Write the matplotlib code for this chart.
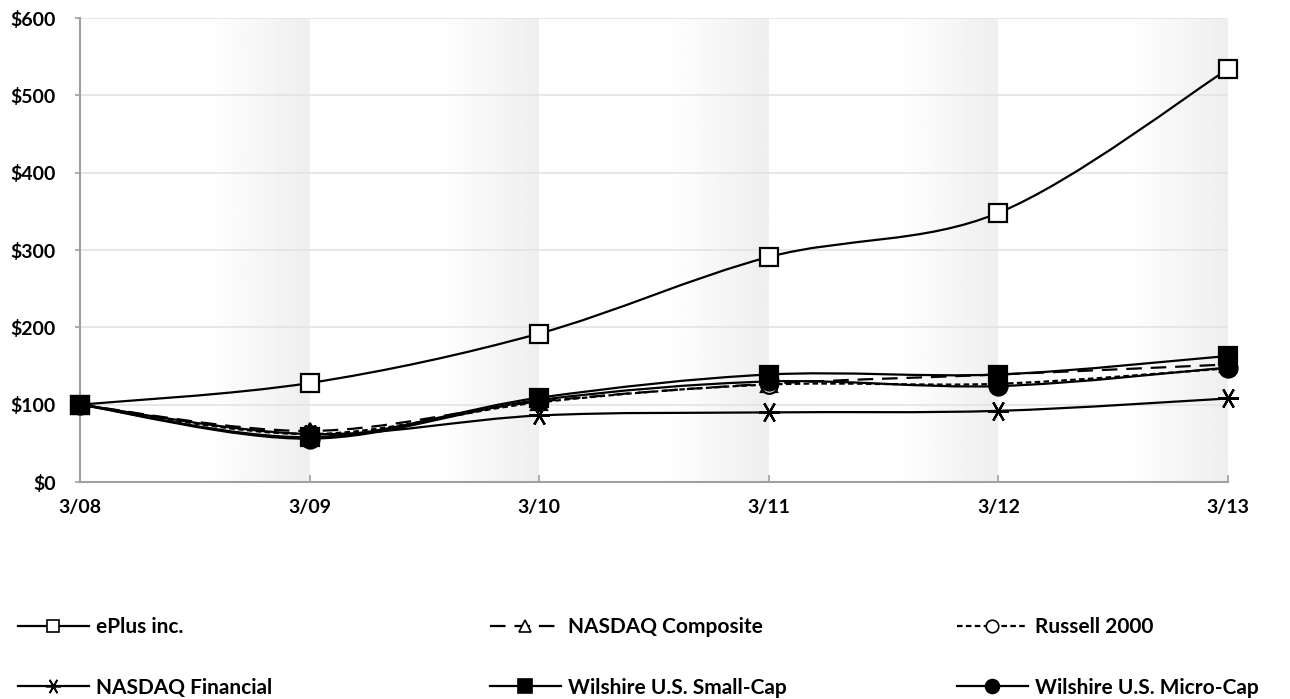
import numpy as np
import matplotlib
matplotlib.use("Agg")
import matplotlib.pyplot as plt
from matplotlib.path import Path
from matplotlib.patches import PathPatch
from matplotlib.lines import Line2D

# data (cumulative total return, $)
periods = ["3/08", "3/09", "3/10", "3/11", "3/12", "3/13"]
eplus = [100, 128, 192, 291, 348, 534]
nasdaq_comp = [100, 66, 104, 127, 139, 152]
russell = [100, 62, 103, 126, 127, 147]
nasdaq_fin = [100, 62, 86, 90, 92, 108]
wil_small = [100, 58, 109, 139, 139, 163]
wil_micro = [100, 56, 106, 130, 124, 148]

y_ticks = [0, 100, 200, 300, 400, 500, 600]

plt.rcParams['font.family'] = ['Lato', 'DejaVu Sans']
plt.rcParams['font.weight'] = 'bold'

fig = plt.figure(figsize=(12.9, 6.99), dpi=100)
ax = fig.add_axes([80 / 1290, 1 - 482 / 699, (1228 - 80) / 1290, (482 - 18) / 699])

x = np.arange(len(periods))

# gradient bands between the periods (white -> light grey at the right edge)
for i in range(len(periods) - 1):
    grad = np.concatenate([np.ones(55), np.linspace(1.0, 0.935, 45)])
    img = np.tile(grad, (2, 1))
    ax.imshow(img, cmap='gray', vmin=0, vmax=1, aspect='auto',
              extent=[i, i + 1, 0, 600], zorder=0, interpolation='bilinear')


def smooth_path(xs, ys):
    # Excel style smoothed line: cubic bezier through the points
    xs = np.asarray(xs, float)
    ys = np.asarray(ys, float)
    n = len(xs)
    verts = [(xs[0], ys[0])]
    codes = [Path.MOVETO]
    for i in range(n - 1):
        p0 = np.array([xs[max(i - 1, 0)], ys[max(i - 1, 0)]])
        p1 = np.array([xs[i], ys[i]])
        p2 = np.array([xs[i + 1], ys[i + 1]])
        p3 = np.array([xs[min(i + 2, n - 1)], ys[min(i + 2, n - 1)]])
        c1 = p1 + (p2 - p0) / 6
        c2 = p2 - (p3 - p1) / 6
        verts += [tuple(c1), tuple(c2), tuple(p2)]
        codes += [Path.CURVE4] * 3
    return Path(verts, codes)


# name, values, linestyle, marker, face, size in plot, size in legend
series = [
    ("ePlus inc.", eplus, '-', 's', 'white', 13, 9),
    ("NASDAQ Composite", nasdaq_comp, (0, (7, 4)), '^', 'white', 12, 9),
    ("Russell 2000", russell, (0, (2.5, 1.5)), 'o', 'white', 12, 9),
    ("NASDAQ Financial", nasdaq_fin, '-', (6, 2, 90), 'black', 15, 11),
    ("Wilshire U.S. Small-Cap", wil_small, '-', 's', 'black', 13, 10),
    ("Wilshire U.S. Micro-Cap", wil_micro, '-', 'o', 'black', 13, 10),
]

handles = {}
order = [3, 1, 2, 5, 4, 0]
for k in order:
    name, vals, ls, mk, mfc, ms, lms = series[k]
    patch = PathPatch(smooth_path(x, vals), facecolor='none', edgecolor='black',
                      lw=1.6, linestyle=ls, zorder=3 + k * 0.1)
    ax.add_patch(patch)
    ax.plot(x, vals, linestyle='none', marker=mk, markersize=ms,
            markerfacecolor=mfc, markeredgecolor='black', markeredgewidth=1.6,
            zorder=4 + k * 0.1, clip_on=False)
    handles[name] = Line2D([], [], color='black', lw=1.6, linestyle=ls, marker=mk,
                           markersize=lms, markerfacecolor=mfc,
                           markeredgecolor='black', markeredgewidth=1.2)

ax.set_xlim(0, len(periods) - 1)
ax.set_ylim(0, 600)
ax.set_xticks(x)
ax.set_xticklabels(periods)
ax.set_yticks(y_ticks)
ax.set_yticklabels(["${}".format(v) for v in y_ticks])
ax.yaxis.grid(True, color='#e3e3e3', lw=1.2, zorder=1)
ax.set_axisbelow(True)
for s in ['top', 'right']:
    ax.spines[s].set_visible(False)
for s in ['left', 'bottom']:
    ax.spines[s].set_color('#a0a0a0')
    ax.spines[s].set_linewidth(1.5)
    ax.spines[s].set_zorder(2)
ax.tick_params(axis='y', direction='out', length=3.5, color='#a0a0a0', width=1.2,
               labelsize=14, pad=14)
ax.tick_params(axis='x', direction='in', length=5, color='#a0a0a0', width=1.2,
               labelsize=14, pad=12)

# legend: three columns of two rows below the chart
columns = [["ePlus inc.", "NASDAQ Financial"],
           ["NASDAQ Composite", "Wilshire U.S. Small-Cap"],
           ["Russell 2000", "Wilshire U.S. Micro-Cap"]]
col_x = [18, 490, 957]
for names, cx in zip(columns, col_x):
    leg = fig.legend([handles[n] for n in names], names, loc='center left',
                     bbox_to_anchor=(cx / 1290, 1 - 657.5 / 699),
                     frameon=False, fontsize=15, handlelength=3.4,
                     handletextpad=0.35, labelspacing=1.93,
                     borderpad=0, borderaxespad=0)

fig.savefig("out.png", dpi=100)
